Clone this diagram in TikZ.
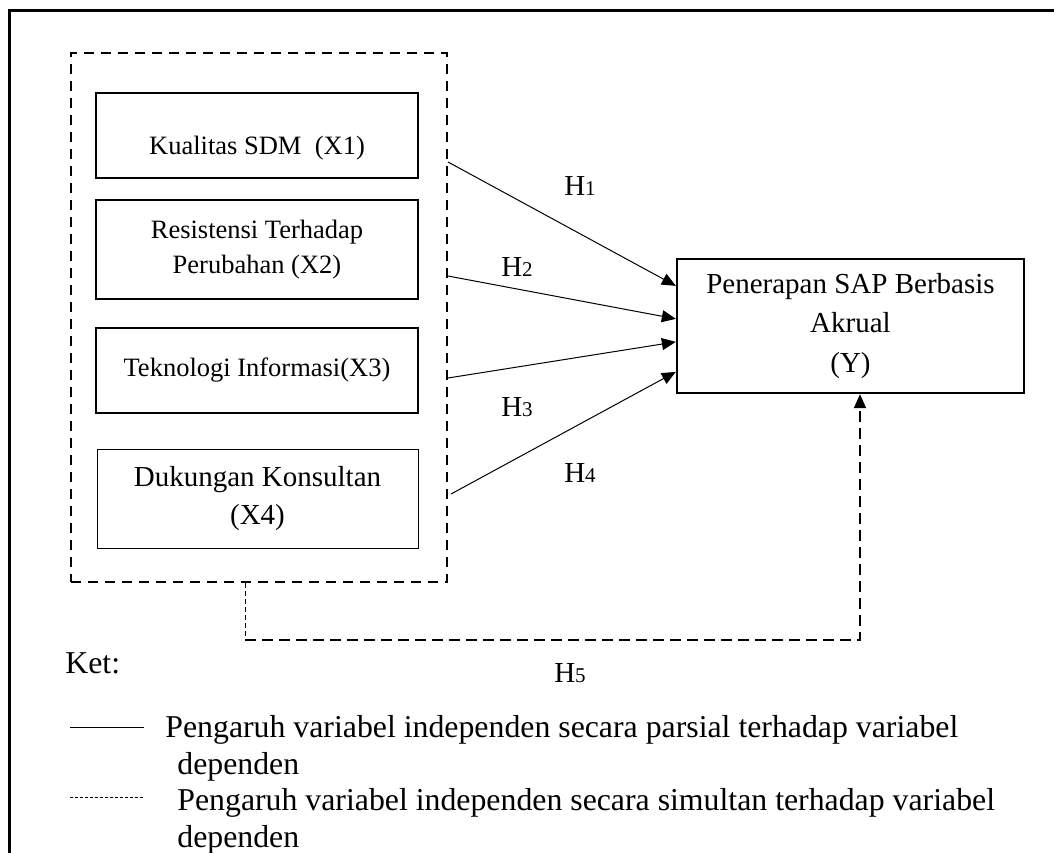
\documentclass[tikz,border=0pt]{standalone}
\usepackage{fontspec}
\setmainfont{Liberation Serif}
\usetikzlibrary{arrows.meta,calc}
\newcommand{\hyp}[1]{H{\fontsize{10.5}{12}\selectfont #1}}

\begin{document}
\begin{tikzpicture}[x=0.5pt,y=-0.5pt,>={Triangle[length=7pt,width=6pt]},
varbox/.style = {draw, line width=1.15pt, minimum width=161pt, align=center, inner sep=0pt, font=\fontsize{13.25}{17.5}\selectfont},
depbox/.style = {draw, line width=1.15pt, minimum width=173.5pt, minimum height=67pt, align=center, inner sep=0pt, font=\fontsize{14.5}{19.75}\selectfont},
grpbox/.style = {draw, line width=1pt, dash pattern=on 5pt off 3.5pt, minimum width=188pt, minimum height=264.5pt, inner sep=0pt},
hlabel/.style = {inner sep=0pt, font=\fontsize{14.5}{17}\selectfont},
legtext/.style = {inner sep=0pt, align=left, anchor=base west, font=\fontsize{15.9}{18.25}\selectfont},
partial/.style = {line width=0.5pt},
thindash/.style = {line width=0.5pt, dash pattern=on 2.5pt off 1.5pt},
simdash/.style = {line width=0.75pt, dash pattern=on 5.5pt off 3pt},]
\useasboundingbox (0,0) rectangle (1054,852);
\clip (0,0) rectangle (1054,852);
\draw[line width=1.5pt] (9,870) -- (9,10) -- (1070,10);
\node (grp) at (259,317.5)[grpbox] {};
\node (X1) at (257,135.5)[varbox,minimum height=42.5pt] {\raisebox{-6.25pt}[\height][\depth]{Kualitas SDM~ (X1)}};
\node (X2) at (257,249.5)[varbox,minimum height=49.5pt] {Resistensi Terhadap\\Perubahan (X2)};
\node (X3) at (257,370.5)[varbox,minimum height=42.5pt] {Teknologi Informasi(X3)};
\node (X4) at (257.5,498.5)[varbox,line width=0.5pt,minimum width=160.5pt,minimum height=49.5pt,font=\fontsize{14.5}{19}\selectfont] {Dukungan Konsultan\\(X4)};
\node (Y) at (850.5,326)[depbox] {Penerapan SAP Berbasis\\Akrual\\(Y)};
\coordinate (s1) at ($(grp.north east)+(0,110)$);
\coordinate (s2) at ($(grp.north east)+(0,224)$);
\coordinate (s3) at ($(grp.north east)+(0,326)$);
\coordinate (s4) at ($(grp.north east)+(3,442)$);
\draw[partial,->] (s1) -- ($(Y.north west)+(0,28)$);
\draw[partial,->] (s2) -- ($(Y.north west)+(0,61)$);
\draw[partial,->] (s3) -- ($(Y.north west)+(0,84)$);
\draw[partial,->] (s4) -- ($(Y.north west)+(0,114)$);
\node (H1) at (580,186)[hlabel] {\hyp{1}};
\node (H2) at (517,267)[hlabel] {\hyp{2}};
\node (H3) at (517,407)[hlabel] {\hyp{3}};
\node (H4) at (580,473)[hlabel] {\hyp{4}};
\coordinate (h5l) at (245,640);
\coordinate (h5r) at (860,640);
\draw[thindash] (h5l |- grp.south) -- (h5l);
\draw[simdash,->] (h5l) -- (h5r) -- (h5r |- Y.south);
\node (H5) at (570,673)[hlabel] {\hyp{5}};
\node (ket) at (65,673)[legtext] {Ket:};
\coordinate (l1) at (70,727);
\coordinate (l2) at (70,797);
\draw[partial] (l1) -- ++(74,0);
\draw[thindash,dash pattern=on 1.5pt off 1pt] (l2) -- ++(74,0);
\node (leg1) at (165,774)[legtext] {Pengaruh variabel independen secara parsial terhadap variabel\\\hspace{6pt}dependen};
\node (leg2) at (177,847)[legtext] {Pengaruh variabel independen secara simultan terhadap variabel\\dependen};
\end{tikzpicture}
\end{document}
